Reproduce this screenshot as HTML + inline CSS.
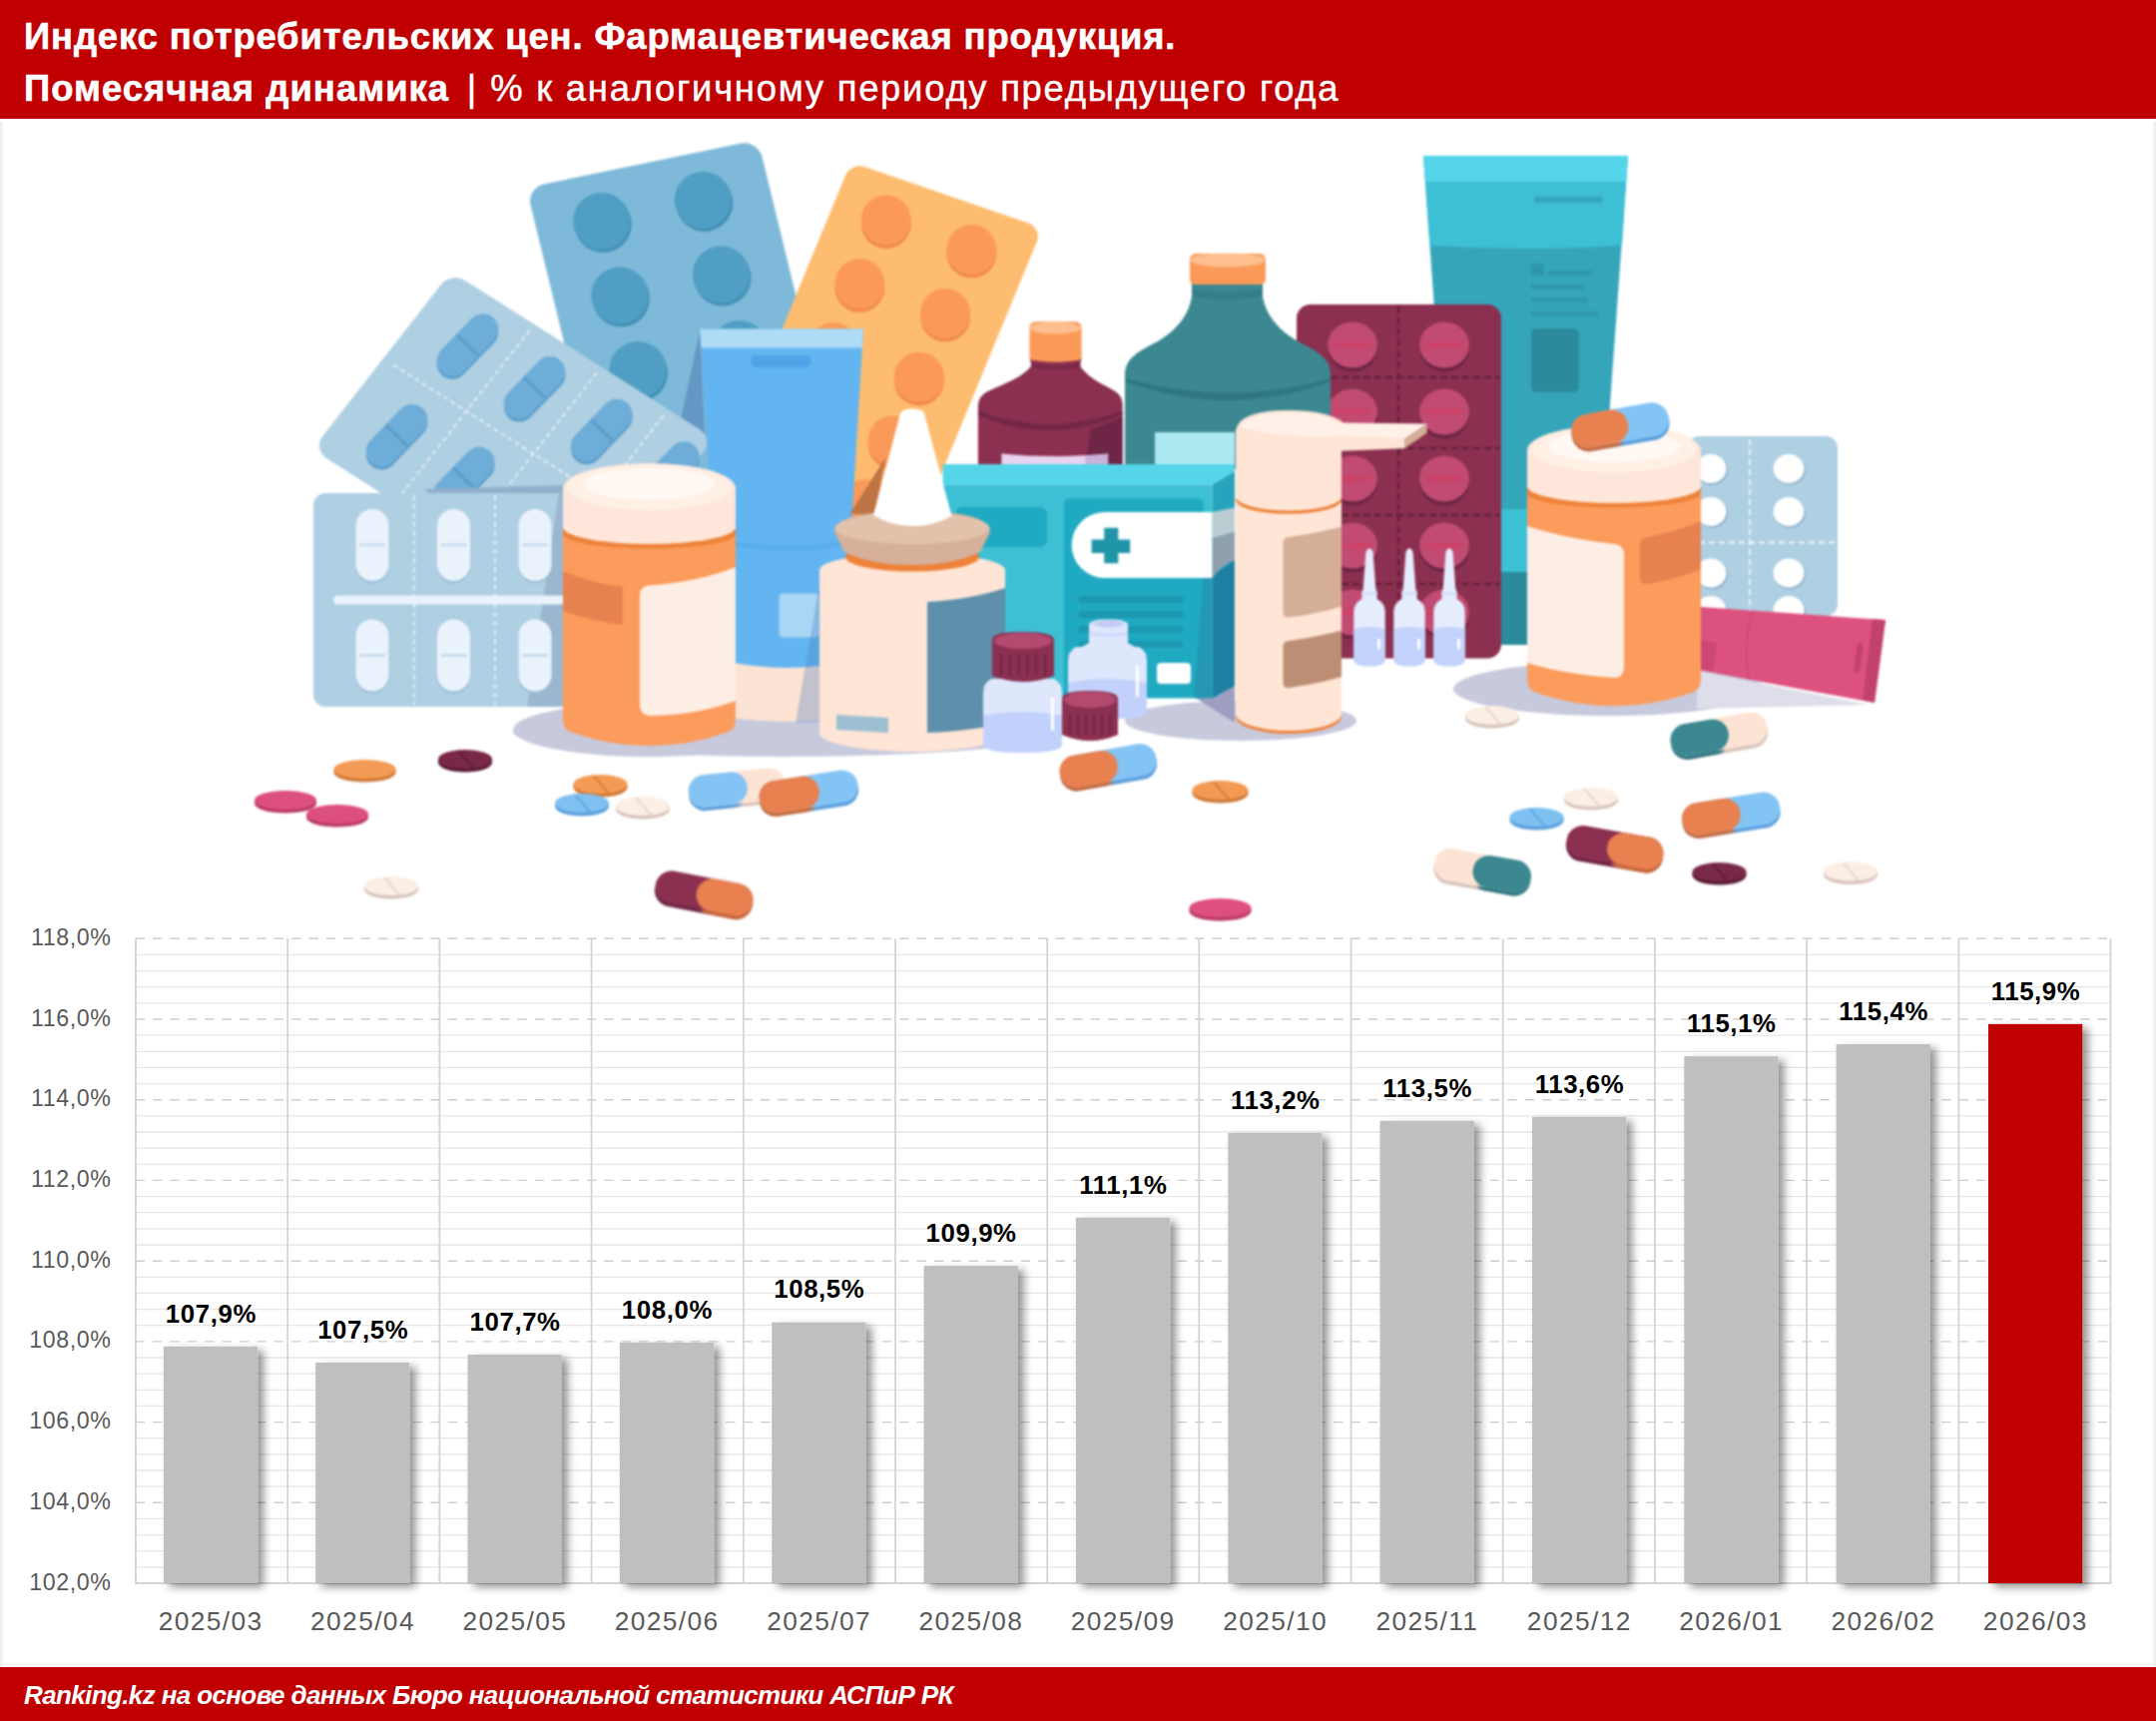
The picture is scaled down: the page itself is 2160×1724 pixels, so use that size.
<!DOCTYPE html>
<html lang="ru"><head><meta charset="utf-8"><title>Индекс потребительских цен</title>
<style>
html,body{margin:0;padding:0;background:#fff;}
body{width:2160px;height:1724px;position:relative;overflow:hidden;font-family:"Liberation Sans",sans-serif;}
#hdr{position:absolute;left:0;top:0;width:2160px;height:119px;background:#c00000;}
#ftr{position:absolute;left:0;top:1670px;width:2160px;height:54px;background:#c00000;}
.t{position:absolute;white-space:nowrap;color:#fff;transform-origin:0 0;}
#t1{left:24px;top:17.3px;font-size:36.4px;font-weight:bold;line-height:40px;letter-spacing:0.87px;-webkit-text-stroke:0.6px #fff;}
#t2{left:24px;top:69.3px;font-size:36.4px;line-height:40px;letter-spacing:1.75px;-webkit-text-stroke:0.45px #fff;}
.pp{margin:0 12.5px 0 17.5px;}
#t2 b{letter-spacing:1.05px;-webkit-text-stroke:0.6px #fff;}
#t3{left:24px;top:1683px;font-size:26px;font-weight:bold;font-style:italic;line-height:30px;letter-spacing:-0.62px;}
.bl{position:absolute;width:160px;text-align:center;font-weight:bold;font-size:25.8px;letter-spacing:0.6px;line-height:30px;height:30px;color:#000;white-space:nowrap;}
.xl{position:absolute;width:160px;text-align:center;font-size:26.3px;letter-spacing:1.4px;line-height:30px;height:30px;color:#595959;white-space:nowrap;}
.yl{position:absolute;left:0;width:111.6px;text-align:right;letter-spacing:0.6px;font-size:23.2px;line-height:30px;height:30px;color:#595959;white-space:nowrap;}
svg{position:absolute;left:0;top:0;}
#edgeL{position:absolute;left:0;top:122px;width:4px;height:1548px;background:linear-gradient(90deg,#ebebeb,#fff);}
#edgeR{position:absolute;right:0;top:122px;width:4px;height:1548px;background:linear-gradient(270deg,#ebebeb,#fff);}
</style></head><body>
<div id="hdr"></div><div id="ftr"></div><div id="edgeL"></div><div id="edgeR"></div>
<svg width="2160" height="1724" viewBox="0 0 2160 1724">
<defs>
<filter id="sh" x="-20%" y="-5%" width="150%" height="110%"><feDropShadow dx="6" dy="4" stdDeviation="4" flood-color="#000" flood-opacity="0.42"/></filter>
<filter id="soft" x="0" y="119" width="2160" height="830" filterUnits="userSpaceOnUse" color-interpolation-filters="sRGB"><feGaussianBlur stdDeviation="0.8"/></filter>
</defs>
<g id="chart">
<line x1="136.0" x2="2114.5" y1="1569.9" y2="1569.9" stroke="#e6e6e6" stroke-width="1.3"/>
<line x1="136.0" x2="2114.5" y1="1553.7" y2="1553.7" stroke="#e6e6e6" stroke-width="1.3"/>
<line x1="136.0" x2="2114.5" y1="1537.6" y2="1537.6" stroke="#e6e6e6" stroke-width="1.3"/>
<line x1="136.0" x2="2114.5" y1="1521.4" y2="1521.4" stroke="#e6e6e6" stroke-width="1.3"/>
<line x1="136.0" x2="2114.5" y1="1489.1" y2="1489.1" stroke="#e6e6e6" stroke-width="1.3"/>
<line x1="136.0" x2="2114.5" y1="1473.0" y2="1473.0" stroke="#e6e6e6" stroke-width="1.3"/>
<line x1="136.0" x2="2114.5" y1="1456.9" y2="1456.9" stroke="#e6e6e6" stroke-width="1.3"/>
<line x1="136.0" x2="2114.5" y1="1440.7" y2="1440.7" stroke="#e6e6e6" stroke-width="1.3"/>
<line x1="136.0" x2="2114.5" y1="1408.4" y2="1408.4" stroke="#e6e6e6" stroke-width="1.3"/>
<line x1="136.0" x2="2114.5" y1="1392.3" y2="1392.3" stroke="#e6e6e6" stroke-width="1.3"/>
<line x1="136.0" x2="2114.5" y1="1376.1" y2="1376.1" stroke="#e6e6e6" stroke-width="1.3"/>
<line x1="136.0" x2="2114.5" y1="1360.0" y2="1360.0" stroke="#e6e6e6" stroke-width="1.3"/>
<line x1="136.0" x2="2114.5" y1="1327.7" y2="1327.7" stroke="#e6e6e6" stroke-width="1.3"/>
<line x1="136.0" x2="2114.5" y1="1311.6" y2="1311.6" stroke="#e6e6e6" stroke-width="1.3"/>
<line x1="136.0" x2="2114.5" y1="1295.4" y2="1295.4" stroke="#e6e6e6" stroke-width="1.3"/>
<line x1="136.0" x2="2114.5" y1="1279.3" y2="1279.3" stroke="#e6e6e6" stroke-width="1.3"/>
<line x1="136.0" x2="2114.5" y1="1247.0" y2="1247.0" stroke="#e6e6e6" stroke-width="1.3"/>
<line x1="136.0" x2="2114.5" y1="1230.9" y2="1230.9" stroke="#e6e6e6" stroke-width="1.3"/>
<line x1="136.0" x2="2114.5" y1="1214.7" y2="1214.7" stroke="#e6e6e6" stroke-width="1.3"/>
<line x1="136.0" x2="2114.5" y1="1198.6" y2="1198.6" stroke="#e6e6e6" stroke-width="1.3"/>
<line x1="136.0" x2="2114.5" y1="1166.3" y2="1166.3" stroke="#e6e6e6" stroke-width="1.3"/>
<line x1="136.0" x2="2114.5" y1="1150.2" y2="1150.2" stroke="#e6e6e6" stroke-width="1.3"/>
<line x1="136.0" x2="2114.5" y1="1134.0" y2="1134.0" stroke="#e6e6e6" stroke-width="1.3"/>
<line x1="136.0" x2="2114.5" y1="1117.9" y2="1117.9" stroke="#e6e6e6" stroke-width="1.3"/>
<line x1="136.0" x2="2114.5" y1="1085.6" y2="1085.6" stroke="#e6e6e6" stroke-width="1.3"/>
<line x1="136.0" x2="2114.5" y1="1069.4" y2="1069.4" stroke="#e6e6e6" stroke-width="1.3"/>
<line x1="136.0" x2="2114.5" y1="1053.3" y2="1053.3" stroke="#e6e6e6" stroke-width="1.3"/>
<line x1="136.0" x2="2114.5" y1="1037.2" y2="1037.2" stroke="#e6e6e6" stroke-width="1.3"/>
<line x1="136.0" x2="2114.5" y1="1004.9" y2="1004.9" stroke="#e6e6e6" stroke-width="1.3"/>
<line x1="136.0" x2="2114.5" y1="988.7" y2="988.7" stroke="#e6e6e6" stroke-width="1.3"/>
<line x1="136.0" x2="2114.5" y1="972.6" y2="972.6" stroke="#e6e6e6" stroke-width="1.3"/>
<line x1="136.0" x2="2114.5" y1="956.4" y2="956.4" stroke="#e6e6e6" stroke-width="1.3"/>
<line x1="136.0" x2="136.0" y1="940.3" y2="1587.0" stroke="#d4d4d4" stroke-width="1.8"/>
<line x1="288.2" x2="288.2" y1="940.3" y2="1587.0" stroke="#d4d4d4" stroke-width="1.8"/>
<line x1="440.4" x2="440.4" y1="940.3" y2="1587.0" stroke="#d4d4d4" stroke-width="1.8"/>
<line x1="592.6" x2="592.6" y1="940.3" y2="1587.0" stroke="#d4d4d4" stroke-width="1.8"/>
<line x1="744.8" x2="744.8" y1="940.3" y2="1587.0" stroke="#d4d4d4" stroke-width="1.8"/>
<line x1="897.0" x2="897.0" y1="940.3" y2="1587.0" stroke="#d4d4d4" stroke-width="1.8"/>
<line x1="1049.2" x2="1049.2" y1="940.3" y2="1587.0" stroke="#d4d4d4" stroke-width="1.8"/>
<line x1="1201.3" x2="1201.3" y1="940.3" y2="1587.0" stroke="#d4d4d4" stroke-width="1.8"/>
<line x1="1353.5" x2="1353.5" y1="940.3" y2="1587.0" stroke="#d4d4d4" stroke-width="1.8"/>
<line x1="1505.7" x2="1505.7" y1="940.3" y2="1587.0" stroke="#d4d4d4" stroke-width="1.8"/>
<line x1="1657.9" x2="1657.9" y1="940.3" y2="1587.0" stroke="#d4d4d4" stroke-width="1.8"/>
<line x1="1810.1" x2="1810.1" y1="940.3" y2="1587.0" stroke="#d4d4d4" stroke-width="1.8"/>
<line x1="1962.3" x2="1962.3" y1="940.3" y2="1587.0" stroke="#d4d4d4" stroke-width="1.8"/>
<line x1="2114.5" x2="2114.5" y1="940.3" y2="1587.0" stroke="#d4d4d4" stroke-width="1.8"/>
<line x1="136.0" x2="2114.5" y1="1586.0" y2="1586.0" stroke="#d4d4d4" stroke-width="1.8"/>
<line x1="135.5" x2="2114.5" y1="1505.3" y2="1505.3" stroke="#cecece" stroke-width="1.4" stroke-dasharray="9.4 8"/>
<line x1="135.5" x2="2114.5" y1="1424.6" y2="1424.6" stroke="#cecece" stroke-width="1.4" stroke-dasharray="9.4 8"/>
<line x1="135.5" x2="2114.5" y1="1343.9" y2="1343.9" stroke="#cecece" stroke-width="1.4" stroke-dasharray="9.4 8"/>
<line x1="135.5" x2="2114.5" y1="1263.2" y2="1263.2" stroke="#cecece" stroke-width="1.4" stroke-dasharray="9.4 8"/>
<line x1="135.5" x2="2114.5" y1="1182.4" y2="1182.4" stroke="#cecece" stroke-width="1.4" stroke-dasharray="9.4 8"/>
<line x1="135.5" x2="2114.5" y1="1101.7" y2="1101.7" stroke="#cecece" stroke-width="1.4" stroke-dasharray="9.4 8"/>
<line x1="135.5" x2="2114.5" y1="1021.0" y2="1021.0" stroke="#cecece" stroke-width="1.4" stroke-dasharray="9.4 8"/>
<line x1="135.5" x2="2114.5" y1="940.3" y2="940.3" stroke="#cecece" stroke-width="1.4" stroke-dasharray="9.4 8"/>
<rect x="163.9" y="1348.8" width="94.2" height="237.2" fill="#bfbfbf" filter="url(#sh)"/>
<rect x="316.2" y="1364.9" width="94.2" height="221.1" fill="#bfbfbf" filter="url(#sh)"/>
<rect x="468.6" y="1356.9" width="94.2" height="229.1" fill="#bfbfbf" filter="url(#sh)"/>
<rect x="620.9" y="1344.8" width="94.2" height="241.2" fill="#bfbfbf" filter="url(#sh)"/>
<rect x="773.3" y="1324.6" width="94.2" height="261.4" fill="#bfbfbf" filter="url(#sh)"/>
<rect x="925.6" y="1268.1" width="94.2" height="317.9" fill="#bfbfbf" filter="url(#sh)"/>
<rect x="1077.9" y="1219.7" width="94.2" height="366.3" fill="#bfbfbf" filter="url(#sh)"/>
<rect x="1230.3" y="1134.9" width="94.2" height="451.1" fill="#bfbfbf" filter="url(#sh)"/>
<rect x="1382.6" y="1122.8" width="94.2" height="463.2" fill="#bfbfbf" filter="url(#sh)"/>
<rect x="1535.0" y="1118.8" width="94.2" height="467.2" fill="#bfbfbf" filter="url(#sh)"/>
<rect x="1687.3" y="1058.2" width="94.2" height="527.8" fill="#bfbfbf" filter="url(#sh)"/>
<rect x="1839.6" y="1046.1" width="94.2" height="539.9" fill="#bfbfbf" filter="url(#sh)"/>
<rect x="1992.0" y="1025.9" width="94.2" height="560.1" fill="#c00000" filter="url(#sh)"/>
</g>
<g id="illus" filter="url(#soft)">
<ellipse cx="786" cy="733" rx="272" ry="25" fill="#c7c9dd"/>
<ellipse cx="650" cy="731" rx="136" ry="27" fill="#c7c9dd"/>
<ellipse cx="1243" cy="722" rx="116" ry="20" fill="#c7c9dd"/>
<ellipse cx="1612" cy="690" rx="156" ry="27" fill="#c7c9dd"/>
<path d="M1700 672 L1872 706 L1700 710 Z" fill="#dddeea"/>
<g transform="matrix(0.9792,-0.2028,0.2368,0.9716,527.3,188.1)"><rect x="0" y="0" width="237" height="380" rx="18" fill="#7eb9d9"/></g>
<circle cx="604.2" cy="224.5" r="28.5" fill="#4390b6"/><circle cx="602.7" cy="221.5" r="28.5" fill="#509ec3"/>
<circle cx="705.7" cy="203.4" r="28.5" fill="#4390b6"/><circle cx="704.2" cy="200.4" r="28.5" fill="#509ec3"/>
<circle cx="622.4" cy="299.0" r="28.5" fill="#4390b6"/><circle cx="620.9" cy="296.0" r="28.5" fill="#509ec3"/>
<circle cx="723.9" cy="278.0" r="28.5" fill="#4390b6"/><circle cx="722.4" cy="275.0" r="28.5" fill="#509ec3"/>
<circle cx="640.5" cy="373.5" r="28.5" fill="#4390b6"/><circle cx="639.0" cy="370.5" r="28.5" fill="#509ec3"/>
<circle cx="742.1" cy="352.5" r="28.5" fill="#4390b6"/><circle cx="740.6" cy="349.5" r="28.5" fill="#509ec3"/>
<circle cx="658.7" cy="448.0" r="28.5" fill="#4390b6"/><circle cx="657.2" cy="445.0" r="28.5" fill="#509ec3"/>
<circle cx="760.2" cy="427.0" r="28.5" fill="#4390b6"/><circle cx="758.7" cy="424.0" r="28.5" fill="#509ec3"/>
<path d="M701.3 331 L706 436 L682 420 Z" fill="#6498c4"/>
<g transform="matrix(0.9455,0.3256,-0.381,0.9245,852.5,162.3)"><rect x="0" y="0" width="203" height="420" rx="15" fill="#fdbc6f"/></g>
<circle cx="887.7" cy="224.0" r="25" fill="#f18b46"/><circle cx="887.7" cy="220.5" r="25" fill="#fb9a58"/>
<circle cx="973.4" cy="253.6" r="25" fill="#f18b46"/><circle cx="973.4" cy="250.1" r="25" fill="#fb9a58"/>
<circle cx="861.4" cy="287.8" r="25" fill="#f18b46"/><circle cx="861.4" cy="284.3" r="25" fill="#fb9a58"/>
<circle cx="947.1" cy="317.4" r="25" fill="#f18b46"/><circle cx="947.1" cy="313.9" r="25" fill="#fb9a58"/>
<circle cx="835.1" cy="351.6" r="25" fill="#f18b46"/><circle cx="835.1" cy="348.1" r="25" fill="#fb9a58"/>
<circle cx="920.8" cy="381.2" r="25" fill="#f18b46"/><circle cx="920.8" cy="377.7" r="25" fill="#fb9a58"/>
<circle cx="808.8" cy="415.4" r="25" fill="#f18b46"/><circle cx="808.8" cy="411.9" r="25" fill="#fb9a58"/>
<circle cx="894.6" cy="444.9" r="25" fill="#f18b46"/><circle cx="894.6" cy="441.4" r="25" fill="#fb9a58"/>
<circle cx="782.5" cy="479.2" r="25" fill="#f18b46"/><circle cx="782.5" cy="475.7" r="25" fill="#fb9a58"/>
<circle cx="868.3" cy="508.7" r="25" fill="#f18b46"/><circle cx="868.3" cy="505.2" r="25" fill="#fb9a58"/>
<circle cx="756.2" cy="543.0" r="25" fill="#f18b46"/><circle cx="756.2" cy="539.5" r="25" fill="#fb9a58"/>
<circle cx="842.0" cy="572.5" r="25" fill="#f18b46"/><circle cx="842.0" cy="569.0" r="25" fill="#fb9a58"/>
<g transform="matrix(0.844,0.536,-0.616,0.788,455,278)">
<rect x="-6" y="-3.5" width="312" height="226" rx="17" fill="#afcfe2"/>
<line x1="92.6" y1="4" x2="92.6" y2="222" stroke="#e9f3fa" stroke-width="1.7" stroke-dasharray="5 3.5"/>
<line x1="172.2" y1="4" x2="172.2" y2="222" stroke="#e9f3fa" stroke-width="1.7" stroke-dasharray="5 3.5"/>
<line x1="251.8" y1="4" x2="251.8" y2="222" stroke="#e9f3fa" stroke-width="1.7" stroke-dasharray="5 3.5"/>
<line x1="6" y1="107" x2="298" y2="107" stroke="#e9f3fa" stroke-width="1.7" stroke-dasharray="5 3.5"/>
</g>
<g transform="translate(468.4,345.7) rotate(44)"><rect x="-13.5" y="-35.5" width="31" height="75" rx="15.5" fill="#5a9cc9"/><rect x="-15.5" y="-37.5" width="31" height="75" rx="15.5" fill="#6eadd8"/><line x1="-15" y1="0" x2="15" y2="0" stroke="#5a9cc9" stroke-width="3"/></g>
<g transform="translate(535.6,388.4) rotate(44)"><rect x="-13.5" y="-35.5" width="31" height="75" rx="15.5" fill="#5a9cc9"/><rect x="-15.5" y="-37.5" width="31" height="75" rx="15.5" fill="#6eadd8"/><line x1="-15" y1="0" x2="15" y2="0" stroke="#5a9cc9" stroke-width="3"/></g>
<g transform="translate(602.8,431.0) rotate(44)"><rect x="-13.5" y="-35.5" width="31" height="75" rx="15.5" fill="#5a9cc9"/><rect x="-15.5" y="-37.5" width="31" height="75" rx="15.5" fill="#6eadd8"/><line x1="-15" y1="0" x2="15" y2="0" stroke="#5a9cc9" stroke-width="3"/></g>
<g transform="translate(669.9,473.7) rotate(44)"><rect x="-13.5" y="-35.5" width="31" height="75" rx="15.5" fill="#5a9cc9"/><rect x="-15.5" y="-37.5" width="31" height="75" rx="15.5" fill="#6eadd8"/><line x1="-15" y1="0" x2="15" y2="0" stroke="#5a9cc9" stroke-width="3"/></g>
<g transform="translate(397.5,436.3) rotate(44)"><rect x="-13.5" y="-35.5" width="31" height="75" rx="15.5" fill="#5a9cc9"/><rect x="-15.5" y="-37.5" width="31" height="75" rx="15.5" fill="#6eadd8"/><line x1="-15" y1="0" x2="15" y2="0" stroke="#5a9cc9" stroke-width="3"/></g>
<g transform="translate(464.7,479.0) rotate(44)"><rect x="-13.5" y="-35.5" width="31" height="75" rx="15.5" fill="#5a9cc9"/><rect x="-15.5" y="-37.5" width="31" height="75" rx="15.5" fill="#6eadd8"/><line x1="-15" y1="0" x2="15" y2="0" stroke="#5a9cc9" stroke-width="3"/></g>
<g transform="translate(531.9,521.6) rotate(44)"><rect x="-13.5" y="-35.5" width="31" height="75" rx="15.5" fill="#5a9cc9"/><rect x="-15.5" y="-37.5" width="31" height="75" rx="15.5" fill="#6eadd8"/><line x1="-15" y1="0" x2="15" y2="0" stroke="#5a9cc9" stroke-width="3"/></g>
<g transform="translate(599.1,564.3) rotate(44)"><rect x="-13.5" y="-35.5" width="31" height="75" rx="15.5" fill="#5a9cc9"/><rect x="-15.5" y="-37.5" width="31" height="75" rx="15.5" fill="#6eadd8"/><line x1="-15" y1="0" x2="15" y2="0" stroke="#5a9cc9" stroke-width="3"/></g>
<path d="M425 490 L640 484 L640 496 L432 496 Z" fill="#8fb0cc"/>
<rect x="314" y="494" width="300" height="214" rx="12" fill="#afcfe2"/>
<path d="M560 494 L614 494 L614 708 L528 708 Z" fill="#9bb7cf"/>
<line x1="415" y1="496" x2="415" y2="706" stroke="#eef6fb" stroke-width="1.6" stroke-dasharray="5 4"/>
<line x1="496" y1="496" x2="496" y2="706" stroke="#eef6fb" stroke-width="1.6" stroke-dasharray="5 4"/>
<rect x="334" y="596.5" width="240" height="9" rx="4.5" fill="#eaf3fc"/>
<rect x="356.5" y="512" width="33" height="72" rx="16.5" fill="#97bbd4"/>
<rect x="356.5" y="510" width="33" height="72" rx="16.5" fill="#eaf3fc"/>
<line x1="360" y1="546" x2="386" y2="546" stroke="#c9dcec" stroke-width="3"/>
<rect x="438.0" y="512" width="33" height="72" rx="16.5" fill="#97bbd4"/>
<rect x="438.0" y="510" width="33" height="72" rx="16.5" fill="#eaf3fc"/>
<line x1="441.5" y1="546" x2="467.5" y2="546" stroke="#c9dcec" stroke-width="3"/>
<rect x="519.5" y="512" width="33" height="72" rx="16.5" fill="#97bbd4"/>
<rect x="519.5" y="510" width="33" height="72" rx="16.5" fill="#eaf3fc"/>
<line x1="523" y1="546" x2="549" y2="546" stroke="#c9dcec" stroke-width="3"/>
<rect x="356.5" y="622.5" width="33" height="72" rx="16.5" fill="#97bbd4"/>
<rect x="356.5" y="620.5" width="33" height="72" rx="16.5" fill="#eaf3fc"/>
<line x1="360" y1="656.5" x2="386" y2="656.5" stroke="#c9dcec" stroke-width="3"/>
<rect x="438.0" y="622.5" width="33" height="72" rx="16.5" fill="#97bbd4"/>
<rect x="438.0" y="620.5" width="33" height="72" rx="16.5" fill="#eaf3fc"/>
<line x1="441.5" y1="656.5" x2="467.5" y2="656.5" stroke="#c9dcec" stroke-width="3"/>
<rect x="519.5" y="622.5" width="33" height="72" rx="16.5" fill="#97bbd4"/>
<rect x="519.5" y="620.5" width="33" height="72" rx="16.5" fill="#eaf3fc"/>
<line x1="523" y1="656.5" x2="549" y2="656.5" stroke="#c9dcec" stroke-width="3"/>
<path d="M701.3 329.5 L865 329.5 L845 664 L845 718 Q795 728 721.5 718 L721.5 664 Z" fill="#62b5f0"/>
<path d="M701.3 329.5 L865 329.5 L863.9 348.6 L702.4 348.6 Z" fill="#aedcf6"/>
<rect x="752" y="356" width="61" height="12" rx="6" fill="#4fa4e8"/>
<path d="M721.5 661 Q785 676 845 663 L845 718 Q795 728 721.5 718 Z" fill="#fde3d3"/>
<path d="M714 538 Q785 555 852.5 541 L852.3 545 Q785 559 714.2 542 Z" fill="#4fa4e8" opacity="0.55"/>
<rect x="780.5" y="594.5" width="40" height="44" rx="4" fill="#a9d6f5"/>
<path d="M822 580 L853 560 L853 722 L797 724 Z" fill="#4a7fbf" opacity="0.33"/>
<path d="M1031.5 358 L1083.6 358 L1082.1 366.6 C1088 376 1100 383 1112 389 C1121 393.5 1124.6 398 1124.6 406 L1124.6 470 L979.9 470 L979.9 408 C979.9 399 984 394.5 992 391 C1005 385 1025 378 1033.3 366.6 Z" fill="#8b3050"/>
<path d="M1033 364 Q1057 369 1082.5 364 L1082.1 367.5 Q1057 372.5 1033.3 367.5 Z" fill="#6e2546" opacity="0.7"/>
<path d="M979.9 411.5 Q1050.4 438 1124.6 411.5 L1124.6 415.5 Q1050.4 447 979.9 415.5 Z" fill="#6e2546" opacity="0.85"/>
<path d="M1093 429.5 Q1112 424 1124.6 417 L1124.6 470 L1086.6 470 Z" fill="#6e2546"/>
<path d="M1003.4 454.4 Q1056 459.5 1110.1 454.4 L1110.1 470 L1003.4 470 Z" fill="#e9d3f1"/>
<path d="M1087.5 457 Q1100 456 1110.1 454.4 L1110.1 470 L1086.6 470 Z" fill="#c9b1d9"/>
<path d="M1031.5 329 Q1031.5 322.3 1038 322.3 L1077 322.3 Q1083.6 322.3 1083.6 329 L1083.6 357 Q1083.6 361 1079 361 Q1057 364.5 1036 361 Q1031.5 361 1031.5 357 Z" fill="#fb9a58"/>
<ellipse cx="1057.5" cy="328.5" rx="25.5" ry="6" fill="#fdbf8f"/>
<path d="M1426 156 L1631 156 L1610.5 440 L1596 646 L1505 646 L1445 420 Z" fill="#35a5ba"/>
<path d="M1426 156 L1631 156 L1625 246 Q1530 252 1432.5 246 Z" fill="#3dbfd4"/>
<path d="M1426 156 L1631 156 L1629.3 182 L1427.8 182 Z" fill="#55d5e9"/>
<rect x="1537" y="197" width="68" height="6" fill="#35a5ba"/>
<rect x="1534" y="264" width="13" height="12" fill="#2f97ab"/>
<rect x="1551" y="271" width="45" height="4.5" fill="#2f97ab"/>
<rect x="1534" y="285" width="53" height="4.5" fill="#2f97ab"/>
<rect x="1534" y="298.5" width="57" height="4.5" fill="#2f97ab"/>
<rect x="1534" y="312" width="67" height="4.5" fill="#2f97ab"/>
<rect x="1534" y="329" width="48" height="64" rx="5" fill="#2b8b9d"/>
<rect x="1500" y="510" width="110" height="63" fill="#3dbfd4"/>
<rect x="1500" y="573" width="110" height="73" fill="#2b8b9d"/>
<rect x="1299" y="305" width="205" height="354.5" rx="14" fill="#8b3050"/>
<line x1="1401" y1="307" x2="1401" y2="656" stroke="#5e1d3a" stroke-width="2" stroke-dasharray="7 4"/>
<line x1="1300" y1="378" x2="1503" y2="378" stroke="#5e1d3a" stroke-width="2" stroke-dasharray="7 4"/>
<line x1="1300" y1="449" x2="1503" y2="449" stroke="#5e1d3a" stroke-width="2" stroke-dasharray="7 4"/>
<line x1="1300" y1="516" x2="1503" y2="516" stroke="#5e1d3a" stroke-width="2" stroke-dasharray="7 4"/>
<line x1="1300" y1="585" x2="1503" y2="585" stroke="#5e1d3a" stroke-width="2" stroke-dasharray="7 4"/>
<ellipse cx="1355" cy="349.5" rx="25" ry="23" fill="#6e2546"/><ellipse cx="1355" cy="345.5" rx="25" ry="23" fill="#c14b72"/><rect x="1337" y="342.5" width="36" height="6" rx="3" fill="#cd4269"/>
<ellipse cx="1447" cy="349.5" rx="25" ry="23" fill="#6e2546"/><ellipse cx="1447" cy="345.5" rx="25" ry="23" fill="#c14b72"/><rect x="1429" y="342.5" width="36" height="6" rx="3" fill="#cd4269"/>
<ellipse cx="1355" cy="416.5" rx="25" ry="23" fill="#6e2546"/><ellipse cx="1355" cy="412.5" rx="25" ry="23" fill="#c14b72"/><rect x="1337" y="409.5" width="36" height="6" rx="3" fill="#cd4269"/>
<ellipse cx="1447" cy="416.5" rx="25" ry="23" fill="#6e2546"/><ellipse cx="1447" cy="412.5" rx="25" ry="23" fill="#c14b72"/><rect x="1429" y="409.5" width="36" height="6" rx="3" fill="#cd4269"/>
<ellipse cx="1355" cy="483.5" rx="25" ry="23" fill="#6e2546"/><ellipse cx="1355" cy="479.5" rx="25" ry="23" fill="#c14b72"/><rect x="1337" y="476.5" width="36" height="6" rx="3" fill="#cd4269"/>
<ellipse cx="1447" cy="483.5" rx="25" ry="23" fill="#6e2546"/><ellipse cx="1447" cy="479.5" rx="25" ry="23" fill="#c14b72"/><rect x="1429" y="476.5" width="36" height="6" rx="3" fill="#cd4269"/>
<ellipse cx="1355" cy="550.5" rx="25" ry="23" fill="#6e2546"/><ellipse cx="1355" cy="546.5" rx="25" ry="23" fill="#c14b72"/><rect x="1337" y="543.5" width="36" height="6" rx="3" fill="#cd4269"/>
<ellipse cx="1447" cy="550.5" rx="25" ry="23" fill="#6e2546"/><ellipse cx="1447" cy="546.5" rx="25" ry="23" fill="#c14b72"/><rect x="1429" y="543.5" width="36" height="6" rx="3" fill="#cd4269"/>
<ellipse cx="1355" cy="617.5" rx="25" ry="23" fill="#6e2546"/><ellipse cx="1355" cy="613.5" rx="25" ry="23" fill="#c14b72"/><rect x="1337" y="610.5" width="36" height="6" rx="3" fill="#cd4269"/>
<ellipse cx="1447" cy="617.5" rx="25" ry="23" fill="#6e2546"/><ellipse cx="1447" cy="613.5" rx="25" ry="23" fill="#c14b72"/><rect x="1429" y="610.5" width="36" height="6" rx="3" fill="#cd4269"/>
<path d="M1194 282 L1265 282 L1265 297 C1268 315 1280 330 1300 342 C1322 353 1333 360 1333 376 L1333 470 L1127 470 L1127 376 C1127 360 1138 353 1160 342 C1180 330 1191 315 1194 297 Z" fill="#3b8891"/>
<path d="M1194 290 Q1230 296 1265 290 L1265 297 Q1230 303 1194 297 Z" fill="#2f7680" opacity="0.55"/>
<path d="M1127 379 Q1231 408 1333 379 L1333 382 Q1231 420 1127 382 Z" fill="#2f7680"/>
<rect x="1157" y="433" width="80" height="37" fill="#ade9f1"/>
<path d="M1192 261 Q1192 254 1199 254 L1261 254 Q1268 254 1268 261 L1268 280 Q1268 285 1262 285 L1198 285 Q1192 285 1192 280 Z" fill="#fb9a58"/>
<ellipse cx="1230" cy="260.5" rx="37.5" ry="7" fill="#fdbf8f"/>
<rect x="1690" y="437" width="151" height="180" rx="12" fill="#afcfe2"/>
<line x1="1753" y1="440" x2="1753" y2="615" stroke="#f3f9fd" stroke-width="1.8" stroke-dasharray="6 4"/>
<line x1="1692" y1="543.5" x2="1839" y2="543.5" stroke="#f3f9fd" stroke-width="1.8" stroke-dasharray="6 4"/>
<ellipse cx="1715" cy="471.0" rx="16" ry="15" fill="#8fb3cc"/><ellipse cx="1714" cy="469.5" rx="15.5" ry="14.5" fill="#fff"/>
<ellipse cx="1793" cy="471.0" rx="16" ry="15" fill="#8fb3cc"/><ellipse cx="1792" cy="469.5" rx="15.5" ry="14.5" fill="#fff"/>
<ellipse cx="1715" cy="514.0" rx="16" ry="15" fill="#8fb3cc"/><ellipse cx="1714" cy="512.5" rx="15.5" ry="14.5" fill="#fff"/>
<ellipse cx="1793" cy="514.0" rx="16" ry="15" fill="#8fb3cc"/><ellipse cx="1792" cy="512.5" rx="15.5" ry="14.5" fill="#fff"/>
<ellipse cx="1715" cy="575.5" rx="16" ry="15" fill="#8fb3cc"/><ellipse cx="1714" cy="574" rx="15.5" ry="14.5" fill="#fff"/>
<ellipse cx="1793" cy="575.5" rx="16" ry="15" fill="#8fb3cc"/><ellipse cx="1792" cy="574" rx="15.5" ry="14.5" fill="#fff"/>
<ellipse cx="1715" cy="613.0" rx="16" ry="15" fill="#8fb3cc"/><ellipse cx="1714" cy="611.5" rx="15.5" ry="14.5" fill="#fff"/>
<ellipse cx="1793" cy="613.0" rx="16" ry="15" fill="#8fb3cc"/><ellipse cx="1792" cy="611.5" rx="15.5" ry="14.5" fill="#fff"/>
<path d="M1690 607 L1889 621 L1878 704 L1690 669 Z" fill="#dd517e"/>
<path d="M1876 620 L1889 621 L1878 704 L1866 701.5 Z" fill="#c2416f"/>
<path d="M1756 612 Q1746 645 1752 681" fill="none" stroke="#c9457a" stroke-width="1.5"/>
<rect x="1859" y="644" width="6" height="30" rx="3" fill="#c2416f" transform="rotate(7 1862 659)"/>
<path d="M1700 640 L1720 644 L1716 672 L1700 669 Z" fill="#c2416f" opacity="0.6"/>
<path d="M1198 699.3 L1237 687 L1237 724 Z" fill="#9d9ec0"/>
<path d="M944.5 465 L1237 465 L1237 472.3 L1214.6 485.6 L944.5 485.6 Z" fill="#55d5e9"/>
<path d="M944.5 485.6 L1214.6 485.6 L1214.6 699.3 L953 699.3 L953 520 L944.5 520 Z" fill="#3dbfd4"/>
<path d="M1214.6 485.6 L1237 472.3 L1237 687 L1214.6 699.3 Z" fill="#27a4bc"/>
<path d="M1214.6 577 L1237 561 L1237 687 L1214.6 699.3 Z" fill="#1e80a1"/>
<rect x="957" y="508" width="92" height="40" rx="7" fill="#1faac1"/>
<path d="M1073 499 Q1066 499 1066 506 L1066 699.3 L1205.7 699.3 L1205.7 506 Q1205.7 499 1198.7 499 Z" fill="#1faac1"/>
<path d="M1205.7 579 L1214.6 579 L1214.6 699.3 L1196 699.3 Z" fill="#2397b4"/>
<path d="M1106.6 513 L1214.6 513 L1214.6 579 L1106.6 579 A33 33 0 0 1 1106.6 513 Z" fill="#fff"/>
<path d="M1214.6 513 L1237 508.5 L1237 533 L1214.6 539 Z" fill="#bccdd2"/>
<path d="M1214.6 539 L1237 533 L1237 561.3 Q1224 566 1214.6 579 Z" fill="#8e9fae"/>
<path d="M1106.2 528.7 L1120.3 528.7 L1120.3 540.5 L1132.2 540.5 L1132.2 553.9 L1120.3 553.9 L1120.3 564.3 L1106.2 564.3 L1106.2 553.9 L1093.6 553.9 L1093.6 540.5 L1106.2 540.5 Z" fill="#2095a8"/>
<rect x="1080.5" y="596.9" width="105" height="7.2" rx="3" fill="#1c98b0"/>
<rect x="1080.5" y="611.9" width="105" height="7.2" rx="3" fill="#1c98b0"/>
<rect x="1080.5" y="626.9" width="105" height="7.2" rx="3" fill="#1c98b0"/>
<rect x="1080.5" y="641.9" width="105" height="7.2" rx="3" fill="#1c98b0"/>
<rect x="1159" y="664" width="34" height="21" rx="4" fill="#fff"/>
<path d="M564 520 L737 520 L737 721 Q737 730 729 733.5 Q650.5 761.02 572 733.5 Q564 730 564 721 Z" fill="#fb9c5c"/>
<path d="M564 522 L737 522 L737 535 A86.5 14.5 0 0 1 564 535 Z" fill="#ee8238"/>
<path d="M564 489 A86.5 25 0 0 1 737 489 L737 528 A86.5 17 0 0 1 564 528 Z" fill="#fee7da"/>
<ellipse cx="650.5" cy="488" rx="82.5" ry="23" fill="#fff0e6"/>
<ellipse cx="650.5" cy="485" rx="65.5" ry="16" fill="#fff8f3"/>
<path d="M650 586.5 Q641 587.5 641 596 L641 706 Q641 716 651 717 Q700 716 737 702 L737 568 Q700 583 650 586.5 Z" fill="#fdeee5"/>
<path d="M564 572 Q595 585 624 588 L624 626 Q595 623 564 612 Z" fill="#e88150"/>
<path d="M887.5 458 L876 516 L851.5 514.5 Z" fill="#bf7445"/>
<path d="M821 571 L1007 571 L1007 734 A93 19 0 0 1 821 734 Z" fill="#fee5d6"/>
<ellipse cx="914" cy="571" rx="93" ry="17" fill="#fee5d6"/>
<path d="M929 603 Q975 600 1007 589 L1007 724 Q975 732 929 734 Z" fill="#5e8fab"/>
<path d="M838 716 L890 719 L890 734 L838 731 Z" fill="#9dbfd3"/>
<ellipse cx="914" cy="558" rx="67" ry="14.5" fill="#ee8238"/>
<path d="M836 533 Q836 512 914 512 Q992 512 992 533 L982 553 Q955 566 914 566 Q873 566 846 553 Z" fill="#d6b09a"/>
<ellipse cx="914" cy="529" rx="77.5" ry="16" fill="#e3c2ab"/>
<path d="M901 418 Q901 409.5 914 409.5 Q927 409.5 927 418 L953.5 517 Q935 527 914 527 Q893 527 875 516 Z" fill="#fff"/>
<path d="M1238 430 L1344 430 L1344 717 A53 17 0 0 1 1238 717 Z" fill="#fee5d6"/>
<path d="M1238 497.5 A53 14 0 0 0 1344 497.5 L1344 500.8 A53 14 0 0 1 1238 500.8 Z" fill="#ee8238"/>
<path d="M1238 715 A53 17 0 0 0 1344 715 L1344 718 A53 17 0 0 1 1238 718 Z" fill="#ee8238"/>
<path d="M1238 434 Q1238 411 1291 411 Q1330 411 1346 423.5 L1429.6 424.5 L1407 440 L1407 449.3 L1344 451.8 L1344 436 Q1291 450 1238 436 Z" fill="#fee5d6"/>
<path d="M1243 426 Q1250 413.5 1291 413.5 Q1326 413.5 1340 424 L1428 425 L1407 439 L1344 436.5 Q1290 440 1243 428 Z" fill="#fff1e8"/>
<path d="M1429.6 424.5 L1429.6 433.8 L1407 449.3 L1407 440 Z" fill="#d5ae97"/>
<path d="M1291 538 Q1320 534 1344 527.5 L1344 607.5 Q1320 615 1291 618.5 Q1285.5 619 1285.5 613 L1285.5 544 Q1285.5 538.5 1291 538 Z" fill="#d5ae97"/>
<path d="M1291 642 Q1320 638 1344 631.5 L1344 678 Q1320 685 1291 689 Q1285.5 689.5 1285.5 684 L1285.5 648 Q1285.5 642.5 1291 642 Z" fill="#bc8e73"/>
<path d="M1368.4 553 Q1372 545.5 1375.6 553 L1378.3 590 L1379.6 592.5 L1379.6 600 Q1387.7 604 1387.7 613 L1387.7 661 Q1387.7 667.5 1372 667.5 Q1356.3 667.5 1356.3 661 L1356.3 613 Q1356.3 604 1364.4 600 L1364.4 592.5 L1365.7 590 Z" fill="#e6edfe"/>
<path d="M1356.3 630 Q1372 626 1387.7 630 L1387.7 661 Q1387.7 667.5 1372 667.5 Q1356.3 667.5 1356.3 661 Z" fill="#c3d3fb"/>
<path d="M1364.4 593 L1379.6 593 L1379.6 596 L1364.4 596 Z" fill="#d3dffc"/>
<rect x="1380" y="640" width="3" height="10" fill="#fff"/>
<path d="M1408.4 553 Q1412 545.5 1415.6 553 L1418.3 590 L1419.6 592.5 L1419.6 600 Q1427.7 604 1427.7 613 L1427.7 661 Q1427.7 667.5 1412 667.5 Q1396.3 667.5 1396.3 661 L1396.3 613 Q1396.3 604 1404.4 600 L1404.4 592.5 L1405.7 590 Z" fill="#e6edfe"/>
<path d="M1396.3 630 Q1412 626 1427.7 630 L1427.7 661 Q1427.7 667.5 1412 667.5 Q1396.3 667.5 1396.3 661 Z" fill="#c3d3fb"/>
<path d="M1404.4 593 L1419.6 593 L1419.6 596 L1404.4 596 Z" fill="#d3dffc"/>
<rect x="1420" y="640" width="3" height="10" fill="#fff"/>
<path d="M1448.4 553 Q1452 545.5 1455.6 553 L1458.3 590 L1459.6 592.5 L1459.6 600 Q1467.7 604 1467.7 613 L1467.7 661 Q1467.7 667.5 1452 667.5 Q1436.3 667.5 1436.3 661 L1436.3 613 Q1436.3 604 1444.4 600 L1444.4 592.5 L1445.7 590 Z" fill="#e6edfe"/>
<path d="M1436.3 630 Q1452 626 1467.7 630 L1467.7 661 Q1467.7 667.5 1452 667.5 Q1436.3 667.5 1436.3 661 Z" fill="#c3d3fb"/>
<path d="M1444.4 593 L1459.6 593 L1459.6 596 L1444.4 596 Z" fill="#d3dffc"/>
<rect x="1460" y="640" width="3" height="10" fill="#fff"/>
<path d="M1530 479 L1704 479 L1704 681 Q1704 690 1696 693.5 Q1617.0 721.02 1538 693.5 Q1530 690 1530 681 Z" fill="#fb9c5c"/>
<path d="M1530 481 L1704 481 L1704 494 A87.0 14.5 0 0 1 1530 494 Z" fill="#ee8238"/>
<path d="M1530 451 A87.0 25 0 0 1 1704 451 L1704 487 A87.0 17 0 0 1 1530 487 Z" fill="#fee7da"/>
<ellipse cx="1617.0" cy="450" rx="83.0" ry="23" fill="#fff0e6"/>
<ellipse cx="1617.0" cy="447" rx="66.0" ry="16" fill="#fff8f3"/>
<path d="M1618 545 Q1627 546.5 1627 555 L1627 668 Q1627 678 1618 679 Q1570 676 1530 664 L1530 527 Q1570 540 1618 545 Z" fill="#fdeee5"/>
<path d="M1704 522 Q1675 534 1650 538 Q1643 539 1643 546 L1643 578 Q1643 586 1651 585 Q1680 580 1704 570 Z" fill="#e88150"/>
<g transform="translate(1623.0,426.0) rotate(-10)"><rect x="-49.5" y="-13.4" width="99.0" height="34.0" rx="17.0" fill="#5b9fdc"/><rect x="-49.5" y="-13.4" width="57.7" height="34.0" rx="17.0" fill="#c96a3c"/><rect x="-49.5" y="-17.0" width="99.0" height="34.0" rx="17.0" fill="#84c4f4"/><rect x="-49.5" y="-17.0" width="57.7" height="34.0" rx="17.0" fill="#e8804f"/></g>
<path d="M1091 626 Q1091 620.5 1110.5 620.5 Q1130 620.5 1130 626 L1130 644 L1137 648 L1137 652 L1084 652 L1084 648 L1091 644 Z" fill="#dfe7fd"/>
<ellipse cx="1110.5" cy="625" rx="15" ry="3.6" fill="#c4caf2"/>
<path d="M1091 633 Q1110 637 1130 633 L1130 635.5 Q1110 639.5 1091 635.5 Z" fill="#cdd7fb"/>
<path d="M1078 648 L1141 648 Q1149 652 1149 662 L1149 712 Q1149 720 1109.5 720 Q1070 720 1070 712 L1070 662 Q1070 652 1078 648 Z" fill="#dfe7fd"/>
<path d="M1070 684.0 Q1109.5 676.0 1149 684.0 L1149 712 Q1149 720 1109.5 720 Q1070 720 1070 712 Z" fill="#c2d1fb"/>
<rect x="1138" y="666" width="3" height="32" rx="1.5" fill="#fff"/>
<path d="M993 680 L1056 680 Q1064 684 1064 694 L1064 746 Q1064 754 1024.5 754 Q985 754 985 746 L985 694 Q985 684 993 680 Z" fill="#dfe7fd"/>
<path d="M985 717.0 Q1024.5 709.0 1064 717.0 L1064 746 Q1064 754 1024.5 754 Q985 754 985 746 Z" fill="#c2d1fb"/>
<rect x="1053" y="698" width="3" height="34" rx="1.5" fill="#fff"/>
<path d="M994 641 Q994 633 1025.0 633 Q1056 633 1056 641 L1056 677 Q1025.0 689 994 677 Z" fill="#8b3050"/>
<ellipse cx="1025.0" cy="642" rx="29.0" ry="8" fill="#b54a70"/>
<line x1="1002.9" y1="655" x2="1002.9" y2="677" stroke="#6e2546" stroke-width="2"/>
<line x1="1011.7" y1="655" x2="1011.7" y2="677" stroke="#6e2546" stroke-width="2"/>
<line x1="1020.6" y1="655" x2="1020.6" y2="677" stroke="#6e2546" stroke-width="2"/>
<line x1="1029.4" y1="655" x2="1029.4" y2="677" stroke="#6e2546" stroke-width="2"/>
<line x1="1038.3" y1="655" x2="1038.3" y2="677" stroke="#6e2546" stroke-width="2"/>
<line x1="1047.1" y1="655" x2="1047.1" y2="677" stroke="#6e2546" stroke-width="2"/>
<path d="M1064 700 Q1064 692 1092.0 692 Q1120 692 1120 700 L1120 736 Q1092.0 748 1064 736 Z" fill="#8b3050"/>
<ellipse cx="1092.0" cy="701" rx="26.0" ry="8" fill="#b54a70"/>
<line x1="1072.0" y1="714" x2="1072.0" y2="736" stroke="#6e2546" stroke-width="2"/>
<line x1="1080.0" y1="714" x2="1080.0" y2="736" stroke="#6e2546" stroke-width="2"/>
<line x1="1088.0" y1="714" x2="1088.0" y2="736" stroke="#6e2546" stroke-width="2"/>
<line x1="1096.0" y1="714" x2="1096.0" y2="736" stroke="#6e2546" stroke-width="2"/>
<line x1="1104.0" y1="714" x2="1104.0" y2="736" stroke="#6e2546" stroke-width="2"/>
<line x1="1112.0" y1="714" x2="1112.0" y2="736" stroke="#6e2546" stroke-width="2"/>
<ellipse cx="286.0" cy="804.9" rx="31" ry="9.6" fill="#b93a66"/><rect x="255.0" y="801.5" width="62" height="3.4" fill="#b93a66"/><ellipse cx="286.0" cy="801.5" rx="31" ry="9.6" fill="#dd4f7f"/>
<ellipse cx="338.0" cy="818.9" rx="31" ry="9.6" fill="#b93a66"/><rect x="307.0" y="815.5" width="62" height="3.4" fill="#b93a66"/><ellipse cx="338.0" cy="815.5" rx="31" ry="9.6" fill="#dd4f7f"/>
<ellipse cx="365.5" cy="773.9" rx="31" ry="9.6" fill="#cf7a3a"/><rect x="334.5" y="770.5" width="62" height="3.4" fill="#cf7a3a"/><ellipse cx="365.5" cy="770.5" rx="31" ry="9.6" fill="#f39a54"/>
<ellipse cx="466.0" cy="763.9" rx="27" ry="9.6" fill="#5a1b35"/><rect x="439.0" y="760.5" width="54" height="3.4" fill="#5a1b35"/><ellipse cx="466.0" cy="760.5" rx="27" ry="9.6" fill="#7a2848"/><line x1="459.2" y1="751.9" x2="474.1" y2="769.6" stroke="#5a1b35" stroke-width="1.6"/>
<ellipse cx="601.5" cy="788.9" rx="27" ry="9.6" fill="#cf7a3a"/><rect x="574.5" y="785.5" width="54" height="3.4" fill="#cf7a3a"/><ellipse cx="601.5" cy="785.5" rx="27" ry="9.6" fill="#f39a54"/><line x1="594.8" y1="776.9" x2="609.6" y2="794.6" stroke="#cf7a3a" stroke-width="1.6"/>
<ellipse cx="583.0" cy="807.9" rx="27" ry="9.6" fill="#5b9fdc"/><rect x="556.0" y="804.5" width="54" height="3.4" fill="#5b9fdc"/><ellipse cx="583.0" cy="804.5" rx="27" ry="9.6" fill="#7fc0f2"/><line x1="576.2" y1="795.9" x2="591.1" y2="813.6" stroke="#5b9fdc" stroke-width="1.6"/>
<ellipse cx="644.0" cy="810.9" rx="27" ry="9.6" fill="#d9c4bd"/><rect x="617.0" y="807.5" width="54" height="3.4" fill="#d9c4bd"/><ellipse cx="644.0" cy="807.5" rx="27" ry="9.6" fill="#fbeee4"/><line x1="637.2" y1="798.9" x2="652.1" y2="816.6" stroke="#e4cfc0" stroke-width="1.6"/>
<ellipse cx="392.0" cy="890.9" rx="27" ry="9.6" fill="#d9c4bd"/><rect x="365.0" y="887.5" width="54" height="3.4" fill="#d9c4bd"/><ellipse cx="392.0" cy="887.5" rx="27" ry="9.6" fill="#fbeee4"/><line x1="385.2" y1="878.9" x2="400.1" y2="896.6" stroke="#e4cfc0" stroke-width="1.6"/>
<g transform="translate(738.0,789.0) rotate(-6)"><rect x="-48.5" y="-12.7" width="97.0" height="32.5" rx="16.2" fill="#d9c4bd"/><rect x="-48.5" y="-12.7" width="59.2" height="32.5" rx="16.2" fill="#5b9fdc"/><rect x="-48.5" y="-16.2" width="97.0" height="32.5" rx="16.2" fill="#fde3d3"/><rect x="-48.5" y="-16.2" width="59.2" height="32.5" rx="16.2" fill="#84c4f4"/></g>
<g transform="translate(810.0,793.0) rotate(-9)"><rect x="-50.0" y="-12.7" width="100.0" height="32.5" rx="16.2" fill="#5b9fdc"/><rect x="-50.0" y="-12.7" width="60.8" height="32.5" rx="16.2" fill="#c96a3c"/><rect x="-50.0" y="-16.2" width="100.0" height="32.5" rx="16.2" fill="#84c4f4"/><rect x="-50.0" y="-16.2" width="60.8" height="32.5" rx="16.2" fill="#e8804f"/></g>
<g transform="translate(705.5,895.0) rotate(11)"><rect x="-49.5" y="-12.7" width="99.0" height="32.5" rx="16.2" fill="#6e2546"/><rect x="-7.8" y="-12.7" width="57.3" height="32.5" rx="16.2" fill="#c96a3c"/><rect x="-49.5" y="-16.2" width="99.0" height="32.5" rx="16.2" fill="#8b3050"/><rect x="-7.8" y="-16.2" width="57.3" height="32.5" rx="16.2" fill="#e8804f"/></g>
<g transform="translate(1110.0,767.0) rotate(-10)"><rect x="-49.0" y="-12.7" width="98.0" height="32.5" rx="16.2" fill="#5b9fdc"/><rect x="-49.0" y="-12.7" width="58.8" height="32.5" rx="16.2" fill="#c96a3c"/><rect x="-49.0" y="-16.2" width="98.0" height="32.5" rx="16.2" fill="#84c4f4"/><rect x="-49.0" y="-16.2" width="58.8" height="32.5" rx="16.2" fill="#e8804f"/></g>
<ellipse cx="1222.5" cy="794.9" rx="28" ry="9.6" fill="#cf7a3a"/><rect x="1194.5" y="791.5" width="56" height="3.4" fill="#cf7a3a"/><ellipse cx="1222.5" cy="791.5" rx="28" ry="9.6" fill="#f39a54"/><line x1="1215.5" y1="782.9" x2="1230.9" y2="800.6" stroke="#cf7a3a" stroke-width="1.6"/>
<ellipse cx="1222.5" cy="912.9" rx="31" ry="9.6" fill="#b93a66"/><rect x="1191.5" y="909.5" width="62" height="3.4" fill="#b93a66"/><ellipse cx="1222.5" cy="909.5" rx="31" ry="9.6" fill="#dd4f7f"/>
<ellipse cx="1495.0" cy="719.9" rx="27" ry="9.6" fill="#d9c4bd"/><rect x="1468.0" y="716.5" width="54" height="3.4" fill="#d9c4bd"/><ellipse cx="1495.0" cy="716.5" rx="27" ry="9.6" fill="#fbeee4"/><line x1="1488.2" y1="707.9" x2="1503.1" y2="725.6" stroke="#e4cfc0" stroke-width="1.6"/>
<g transform="translate(1722.0,735.5) rotate(-10)"><rect x="-49.0" y="-12.7" width="98.0" height="32.5" rx="16.2" fill="#d9c4bd"/><rect x="-49.0" y="-12.7" width="58.8" height="32.5" rx="16.2" fill="#2f7680"/><rect x="-49.0" y="-16.2" width="98.0" height="32.5" rx="16.2" fill="#fde3d3"/><rect x="-49.0" y="-16.2" width="58.8" height="32.5" rx="16.2" fill="#3b8891"/></g>
<ellipse cx="1594.0" cy="801.9" rx="27" ry="9.6" fill="#d9c4bd"/><rect x="1567.0" y="798.5" width="54" height="3.4" fill="#d9c4bd"/><ellipse cx="1594.0" cy="798.5" rx="27" ry="9.6" fill="#fbeee4"/><line x1="1587.2" y1="789.9" x2="1602.1" y2="807.6" stroke="#e4cfc0" stroke-width="1.6"/>
<ellipse cx="1539.5" cy="821.9" rx="27" ry="9.6" fill="#5b9fdc"/><rect x="1512.5" y="818.5" width="54" height="3.4" fill="#5b9fdc"/><ellipse cx="1539.5" cy="818.5" rx="27" ry="9.6" fill="#7fc0f2"/><line x1="1532.8" y1="809.9" x2="1547.6" y2="827.6" stroke="#5b9fdc" stroke-width="1.6"/>
<g transform="translate(1734.0,815.0) rotate(-9)"><rect x="-49.5" y="-12.7" width="99.0" height="32.5" rx="16.2" fill="#5b9fdc"/><rect x="-49.5" y="-12.7" width="59.2" height="32.5" rx="16.2" fill="#c96a3c"/><rect x="-49.5" y="-16.2" width="99.0" height="32.5" rx="16.2" fill="#84c4f4"/><rect x="-49.5" y="-16.2" width="59.2" height="32.5" rx="16.2" fill="#e8804f"/></g>
<g transform="translate(1618.0,849.0) rotate(10)"><rect x="-49.0" y="-12.7" width="98.0" height="32.5" rx="16.2" fill="#6e2546"/><rect x="-7.8" y="-12.7" width="56.8" height="32.5" rx="16.2" fill="#c96a3c"/><rect x="-49.0" y="-16.2" width="98.0" height="32.5" rx="16.2" fill="#8b3050"/><rect x="-7.8" y="-16.2" width="56.8" height="32.5" rx="16.2" fill="#e8804f"/></g>
<g transform="translate(1485.5,872.0) rotate(10)"><rect x="-49.0" y="-12.7" width="98.0" height="32.5" rx="16.2" fill="#d9c4bd"/><rect x="-9.8" y="-12.7" width="58.8" height="32.5" rx="16.2" fill="#2f7680"/><rect x="-49.0" y="-16.2" width="98.0" height="32.5" rx="16.2" fill="#fde3d3"/><rect x="-9.8" y="-16.2" width="58.8" height="32.5" rx="16.2" fill="#3b8891"/></g>
<ellipse cx="1722.5" cy="876.9" rx="27" ry="9.6" fill="#5a1b35"/><rect x="1695.5" y="873.5" width="54" height="3.4" fill="#5a1b35"/><ellipse cx="1722.5" cy="873.5" rx="27" ry="9.6" fill="#7a2848"/><line x1="1715.8" y1="864.9" x2="1730.6" y2="882.6" stroke="#5a1b35" stroke-width="1.6"/>
<ellipse cx="1854.0" cy="876.4" rx="27" ry="9.6" fill="#d9c4bd"/><rect x="1827.0" y="873.0" width="54" height="3.4" fill="#d9c4bd"/><ellipse cx="1854.0" cy="873.0" rx="27" ry="9.6" fill="#fbeee4"/><line x1="1847.2" y1="864.4" x2="1862.1" y2="882.1" stroke="#e4cfc0" stroke-width="1.6"/>
</g>
</svg>
<div class="t" id="t1">Индекс потребительских цен. Фармацевтическая продукция.</div>
<div class="t" id="t2"><b>Помесячная динамика</b><span class="pp">|</span>% к аналогичному периоду предыдущего года</div>
<div class="t" id="t3">Ranking.kz на основе данных Бюро национальной статистики АСПиР РК</div>
<div class="bl" style="left:131.4px;top:1300.6px">107,9%</div>
<div class="xl" style="left:131.2px;top:1608.6px">2025/03</div>
<div class="bl" style="left:283.7px;top:1316.7px">107,5%</div>
<div class="xl" style="left:283.5px;top:1608.6px">2025/04</div>
<div class="bl" style="left:436.1px;top:1308.7px">107,7%</div>
<div class="xl" style="left:435.9px;top:1608.6px">2025/05</div>
<div class="bl" style="left:588.4px;top:1296.6px">108,0%</div>
<div class="xl" style="left:588.2px;top:1608.6px">2025/06</div>
<div class="bl" style="left:740.8px;top:1276.4px">108,5%</div>
<div class="xl" style="left:740.6px;top:1608.6px">2025/07</div>
<div class="bl" style="left:893.1px;top:1219.9px">109,9%</div>
<div class="xl" style="left:892.9px;top:1608.6px">2025/08</div>
<div class="bl" style="left:1045.4px;top:1171.5px">111,1%</div>
<div class="xl" style="left:1045.2px;top:1608.6px">2025/09</div>
<div class="bl" style="left:1197.8px;top:1086.7px">113,2%</div>
<div class="xl" style="left:1197.6px;top:1608.6px">2025/10</div>
<div class="bl" style="left:1350.1px;top:1074.6px">113,5%</div>
<div class="xl" style="left:1349.9px;top:1608.6px">2025/11</div>
<div class="bl" style="left:1502.5px;top:1070.6px">113,6%</div>
<div class="xl" style="left:1502.3px;top:1608.6px">2025/12</div>
<div class="bl" style="left:1654.8px;top:1010.0px">115,1%</div>
<div class="xl" style="left:1654.6px;top:1608.6px">2026/01</div>
<div class="bl" style="left:1807.1px;top:997.9px">115,4%</div>
<div class="xl" style="left:1806.9px;top:1608.6px">2026/02</div>
<div class="bl" style="left:1959.5px;top:977.7px">115,9%</div>
<div class="xl" style="left:1959.3px;top:1608.6px">2026/03</div>
<div class="yl" style="top:1569.5px">102,0%</div>
<div class="yl" style="top:1488.7px">104,0%</div>
<div class="yl" style="top:1408.0px">106,0%</div>
<div class="yl" style="top:1327.3px">108,0%</div>
<div class="yl" style="top:1246.6px">110,0%</div>
<div class="yl" style="top:1165.9px">112,0%</div>
<div class="yl" style="top:1085.2px">114,0%</div>
<div class="yl" style="top:1004.5px">116,0%</div>
<div class="yl" style="top:923.8px">118,0%</div>
</body></html>
